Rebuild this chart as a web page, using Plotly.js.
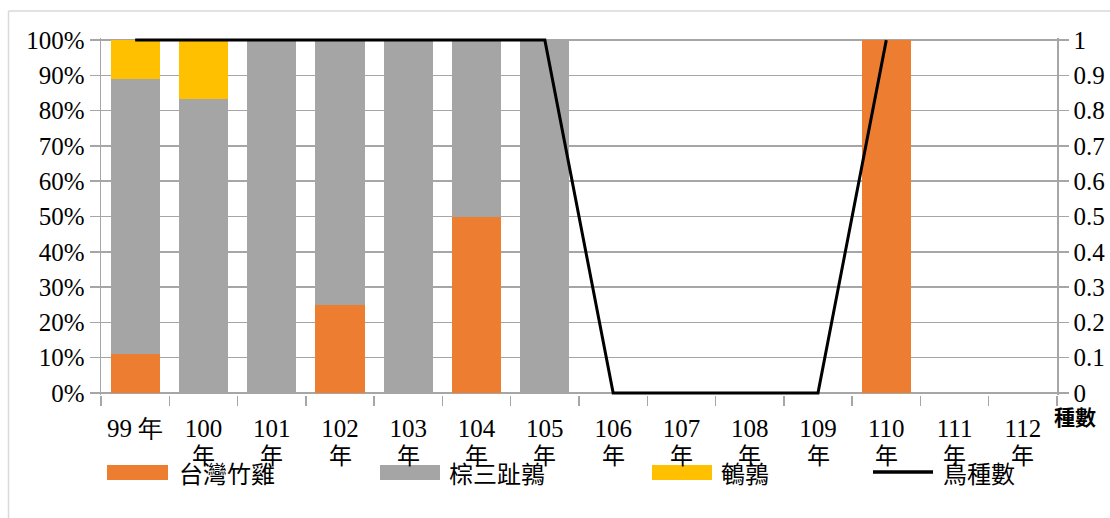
<!DOCTYPE html>
<html>
<head>
<meta charset="utf-8">
<script src="https://cdn.plot.ly/plotly-3.0.1.min.js"></script>
<style>
html,body{margin:0;padding:0;background:#fff;}
#chart{width:1110px;height:518px;}
#chart .xtick text, #chart .ytick text, #chart .y2tick text {
  font-family: "Liberation Serif", "Times New Roman", "DejaVu Serif", serif !important;
}
</style>
</head>
<body>
<div id="chart"></div>
<script>
// ---- data ----
const years = ['99 年','100 年','101 年','102 年','103 年','104 年','105 年','106 年','107 年','108 年','109 年','110 年','111 年','112 年'];
const yearNumbers = ['99 年','100','101','102','103','104','105','106','107','108','109','110','111','112'];
const yearSuffix = '年';
const taiwanPartridge = [0.111, 0, 0, 0.25, 0, 0.5, 0, null, null, null, null, 1, null, null];
const buttonquail     = [0.778, 0.833, 1, 0.75, 1, 0.5, 1, null, null, null, null, 0, null, null];
const quail           = [0.111, 0.167, 0, 0, 0, 0, 0, null, null, null, null, 0, null, null];
const speciesCount    = [1, 1, 1, 1, 1, 1, 1, 0, 0, 0, 0, 1, null, null];
const seriesNames = ['台灣竹雞', '棕三趾鶉', '鵪鶉', '鳥種數'];
const colors = ['#ED7D31', '#A5A5A5', '#FFC000', '#000000'];
const rightAxisTitle = '種數';

// ---- layout geometry helpers (pixel -> paper) ----
const W = 1110, H = 518;
const mL = 101, mR = 53, mT = 38, mB = 123;
const pw = W - mL - mR, ph = H - mT - mB;
const px = x => (x - mL) / pw;
const py = y => (H - mB - y) / ph;

const serif = 'Liberation Serif, DejaVu Serif, serif';
const cjk = 'Noto Sans CJK TC';
const grey = '#A6A6A6';

const traces = [
  {type:'bar', x: years, y: taiwanPartridge, name: seriesNames[0], marker:{color: colors[0]}, showlegend:false},
  {type:'bar', x: years, y: buttonquail, name: seriesNames[1], marker:{color: colors[1]}, showlegend:false},
  {type:'bar', x: years, y: quail, name: seriesNames[2], marker:{color: colors[2]}, showlegend:false},
  {type:'scatter', mode:'lines', x: years, y: speciesCount, name: seriesNames[3], yaxis:'y2',
   line:{color: colors[3], width:3}, connectgaps:false, showlegend:false}
];

// custom legend
const legendItems = [
  {x0:107, x1:168, tx:177},
  {x0:380, x1:440, tx:447},
  {x0:652, x1:712, tx:719},
  {x0:873, x1:933, tx:941}
];
const shapes = [
  // outer frame
  {type:'line', xref:'paper', yref:'paper', x0:px(8.5), x1:px(1200), y0:py(11), y1:py(11), line:{color:'#D9D9D9', width:1.5}},
  {type:'line', xref:'paper', yref:'paper', x0:px(8.5), x1:px(8.5), y0:py(11), y1:py(600), line:{color:'#D9D9D9', width:1.5}}
];
const annotations = [
  {xref:'paper', yref:'paper', x:px(1075), y:py(416), text:'<b>' + rightAxisTitle + '</b>', showarrow:false,
   font:{family: cjk, size:21, color:'#000'}, xanchor:'center', yanchor:'middle'}
];
// second line "年" of the year labels
years.forEach((yr, i) => {
  if (i === 0) return;
  annotations.push({xref:'x', yref:'paper', x: yr, y: py(454), text: yearSuffix, showarrow:false,
    xanchor:'center', yanchor:'middle', font:{family: cjk, size:23, color:'#000'}});
});
legendItems.forEach((it, i) => {
  if (i < 3) {
    shapes.push({type:'rect', xref:'paper', yref:'paper', x0:px(it.x0), x1:px(it.x1), y0:py(480), y1:py(465),
      fillcolor: colors[i], line:{width:0}});
  } else {
    shapes.push({type:'line', xref:'paper', yref:'paper', x0:px(it.x0), x1:px(it.x1), y0:py(472), y1:py(472),
      line:{color: colors[i], width:3.5}});
  }
  annotations.push({xref:'paper', yref:'paper', x:px(it.tx), y:py(472), text: seriesNames[i], showarrow:false,
    xanchor:'left', yanchor:'middle', font:{family: cjk, size:24, color:'#000'}});
});

const layout = {
  width: W, height: H, autosize:false,
  margin:{l:mL, r:mR, t:mT, b:mB, pad:0},
  paper_bgcolor:'#fff', plot_bgcolor:'#fff',
  barmode:'stack', bargap:0.28,
  font:{family: serif, size:25, color:'#000'},
  xaxis:{type:'category', range:[-0.5, 13.5], tickson:'boundaries', ticks:'outside', ticklen:10,
    tickcolor:grey, tickwidth:1.5, showline:false, showgrid:false, zeroline:false,
    tickmode:'array', tickvals: years, ticktext: yearNumbers, ticklabelstandoff: 16,
    tickfont:{family: serif, size:25, color:'#000'}, fixedrange:true},
  yaxis:{range:[-0.006, 1.006], tickmode:'linear', tick0:0, dtick:0.1, tickformat:'.0%',
    ticks:'outside', ticklen:10, tickcolor:grey, tickwidth:1.5,
    showline:true, linecolor:grey, linewidth:1.5, showgrid:true, gridcolor:grey, gridwidth:1.5,
    zeroline:false, tickfont:{family: serif, size:25, color:'#000'}, fixedrange:true},
  yaxis2:{overlaying:'y', side:'right', range:[-0.006, 1.006], tickmode:'linear', tick0:0, dtick:0.1,
    ticks:'outside', ticklen:10, tickcolor:grey, tickwidth:1.5,
    showline:true, linecolor:grey, linewidth:1.5, showgrid:false, zeroline:false,
    tickfont:{family: serif, size:25, color:'#000'}, fixedrange:true},
  shapes: shapes,
  annotations: annotations,
  showlegend:false
};

Plotly.newPlot('chart', traces, layout, {staticPlot:true, displayModeBar:false});
</script>
</body>
</html>
